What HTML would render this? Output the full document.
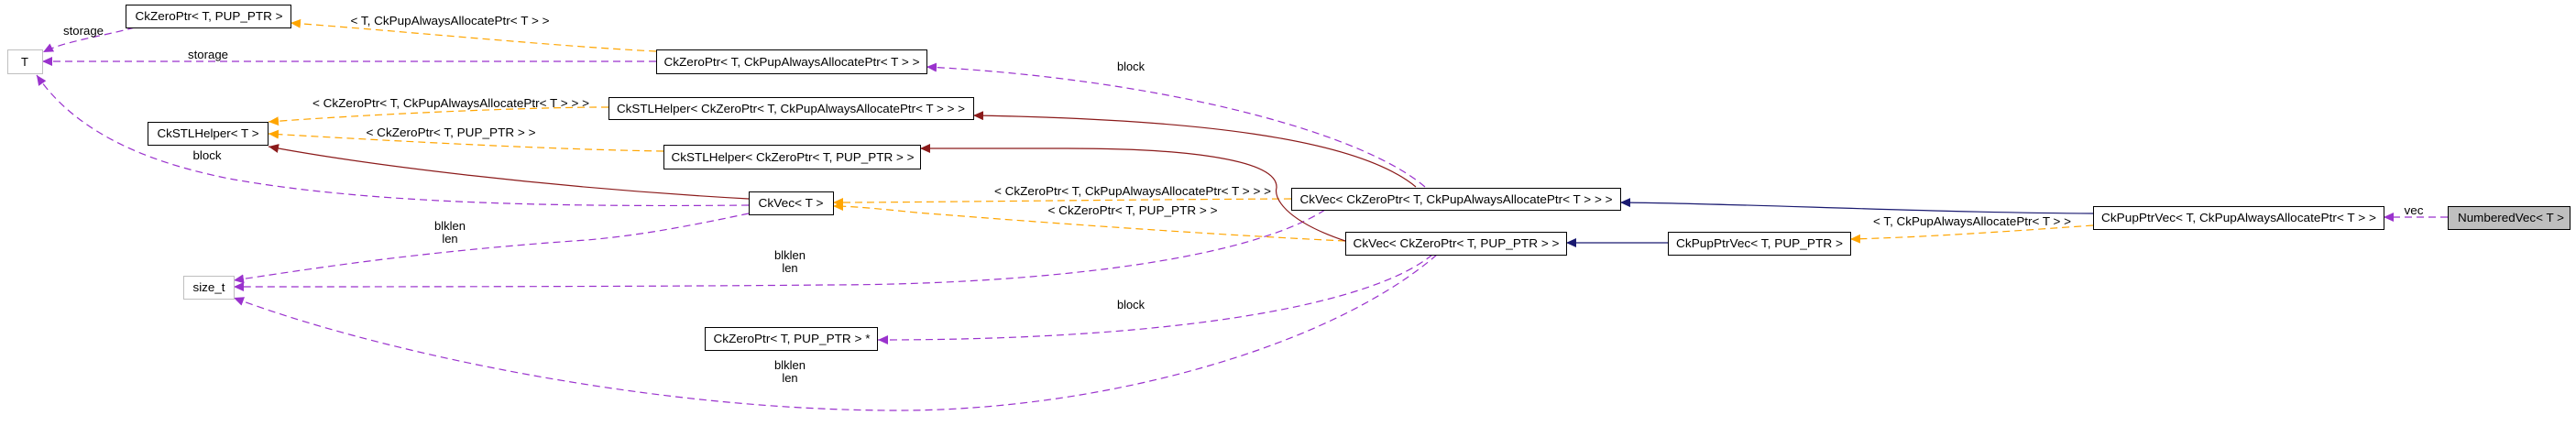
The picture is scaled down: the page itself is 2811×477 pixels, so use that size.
<!DOCTYPE html>
<html><head><meta charset="utf-8"><style>html,body{margin:0;padding:0;background:#fff}svg{display:block}text{font-family:"Liberation Sans",sans-serif;font-size:13px;fill:#000}</style></head><body>
<svg width="2811" height="477" viewBox="0 0 2811 477" xmlns="http://www.w3.org/2000/svg">
<defs>
<marker id="mp" markerWidth="12" markerHeight="10" refX="11" refY="5" orient="auto" markerUnits="userSpaceOnUse"><path d="M0,0 L11,5 L0,10 z" fill="#9a32cd"/></marker>
<marker id="mo" markerWidth="12" markerHeight="10" refX="11" refY="5" orient="auto" markerUnits="userSpaceOnUse"><path d="M0,0 L11,5 L0,10 z" fill="#ffa500"/></marker>
<marker id="mr" markerWidth="12" markerHeight="10" refX="11" refY="5" orient="auto" markerUnits="userSpaceOnUse"><path d="M0,0 L11,5 L0,10 z" fill="#8b1a1a"/></marker>
<marker id="mn" markerWidth="12" markerHeight="10" refX="11" refY="5" orient="auto" markerUnits="userSpaceOnUse"><path d="M0,0 L11,5 L0,10 z" fill="#191970"/></marker>
</defs>
<g fill="none" stroke-width="1.2">
<g stroke="#9a32cd" stroke-dasharray="8,5" marker-end="url(#mp)">
<path d="M2671,237 L2601,237"/>
<path d="M1555,204 C1480,140 1250,85 1011,73"/>
<path d="M1446,229 C1350,290 1100,311 900,311 C700,313 400,313 255,313"/>
<path d="M1563,278 C1500,330 1300,371 958,371"/>
<path d="M1568,278 C1450,380 1200,448 980,448 C700,448 400,380 255,325"/>
<path d="M817,233 C760,245 700,257 640,262 C450,275 330,295 255,306"/>
<path d="M817,224 C600,226 400,222 250,195 C150,175 80,140 40,82"/>
<path d="M716,67 L46,67"/>
<path d="M147,30 C110,40 70,45 47,57"/>
</g>
<g stroke="#ffa500" stroke-dasharray="8,5" marker-end="url(#mo)">
<path d="M2284,246 C2200,252 2100,259 2019,261"/>
<path d="M1409,217 C1200,218 1000,221 909,221"/>
<path d="M1468,263 C1300,255 1100,240 1000,232 C960,228 930,225 909,225"/>
<path d="M664,117 L650,117 C550,118 400,125 293,133"/>
<path d="M724,165 C600,163 450,155 293,146"/>
<path d="M716,56 C600,50 450,35 317,25"/>
</g>
<g stroke="#8b1a1a" marker-end="url(#mr)">
<path d="M1545,204 C1480,150 1300,130 1062,126"/>
<path d="M1468,263 C1400,240 1390,215 1393,205 C1395,175 1300,162 1165,162 L1004,162"/>
<path d="M817,217 C600,205 400,180 293,160"/>
</g>
<g stroke="#191970" marker-end="url(#mn)">
<path d="M2284,233 C2100,232 1900,222 1768,221"/>
<path d="M1820,265 L1709,265"/>
</g>
</g>
<g stroke-width="1">
<rect x="8.5" y="54.5" width="38" height="26" fill="#fff" stroke="#bfbfbf"/>
<rect x="200.5" y="301.5" width="55" height="25" fill="#fff" stroke="#bfbfbf"/>
<rect x="137.5" y="5.5" width="180" height="25" fill="#fff" stroke="#000"/>
<rect x="716.5" y="54.5" width="295" height="26" fill="#fff" stroke="#000"/>
<rect x="161.5" y="133.5" width="131" height="25" fill="#fff" stroke="#000"/>
<rect x="664.5" y="106.5" width="398" height="24" fill="#fff" stroke="#000"/>
<rect x="724.5" y="158.5" width="280" height="26" fill="#fff" stroke="#000"/>
<rect x="817.5" y="209.5" width="92" height="25" fill="#fff" stroke="#000"/>
<rect x="769.5" y="357.5" width="188" height="25" fill="#fff" stroke="#000"/>
<rect x="1409.5" y="205.5" width="359" height="24" fill="#fff" stroke="#000"/>
<rect x="1468.5" y="253.5" width="241" height="25" fill="#fff" stroke="#000"/>
<rect x="1820.5" y="253.5" width="199" height="25" fill="#fff" stroke="#000"/>
<rect x="2284.5" y="225.5" width="317" height="25" fill="#fff" stroke="#000"/>
<rect x="2671.5" y="225.5" width="133" height="25" fill="#bfbfbf" stroke="#000"/>
</g>
<g text-anchor="middle" lengthAdjust="spacingAndGlyphs">
<text x="27" y="72">T</text>
<text x="228" y="318" textLength="35" lengthAdjust="spacingAndGlyphs">size_t</text>
<text x="228" y="22" textLength="161" lengthAdjust="spacingAndGlyphs">CkZeroPtr&lt; T, PUP_PTR &gt;</text>
<text x="864" y="72" textLength="279" lengthAdjust="spacingAndGlyphs">CkZeroPtr&lt; T, CkPupAlwaysAllocatePtr&lt; T &gt; &gt;</text>
<text x="227" y="150" textLength="111" lengthAdjust="spacingAndGlyphs">CkSTLHelper&lt; T &gt;</text>
<text x="863" y="123" textLength="380" lengthAdjust="spacingAndGlyphs">CkSTLHelper&lt; CkZeroPtr&lt; T, CkPupAlwaysAllocatePtr&lt; T &gt; &gt; &gt;</text>
<text x="865" y="176" textLength="265" lengthAdjust="spacingAndGlyphs">CkSTLHelper&lt; CkZeroPtr&lt; T, PUP_PTR &gt; &gt;</text>
<text x="863" y="226" textLength="71" lengthAdjust="spacingAndGlyphs">CkVec&lt; T &gt;</text>
<text x="864" y="374" textLength="171" lengthAdjust="spacingAndGlyphs">CkZeroPtr&lt; T, PUP_PTR &gt; *</text>
<text x="1589" y="222" textLength="341" lengthAdjust="spacingAndGlyphs">CkVec&lt; CkZeroPtr&lt; T, CkPupAlwaysAllocatePtr&lt; T &gt; &gt; &gt;</text>
<text x="1589" y="270" textLength="225" lengthAdjust="spacingAndGlyphs">CkVec&lt; CkZeroPtr&lt; T, PUP_PTR &gt; &gt;</text>
<text x="1920" y="270" textLength="182" lengthAdjust="spacingAndGlyphs">CkPupPtrVec&lt; T, PUP_PTR &gt;</text>
<text x="2443" y="242" textLength="300" lengthAdjust="spacingAndGlyphs">CkPupPtrVec&lt; T, CkPupAlwaysAllocatePtr&lt; T &gt; &gt;</text>
<text x="2740" y="242" textLength="116" lengthAdjust="spacingAndGlyphs">NumberedVec&lt; T &gt;</text>

<text x="91" y="38" textLength="44" lengthAdjust="spacingAndGlyphs">storage</text>
<text x="227" y="64" textLength="44" lengthAdjust="spacingAndGlyphs">storage</text>
<text x="491" y="27" textLength="217" lengthAdjust="spacingAndGlyphs">&lt; T, CkPupAlwaysAllocatePtr&lt; T &gt; &gt;</text>
<text x="492" y="117" textLength="302" lengthAdjust="spacingAndGlyphs">&lt; CkZeroPtr&lt; T, CkPupAlwaysAllocatePtr&lt; T &gt; &gt; &gt;</text>
<text x="492" y="149" textLength="185" lengthAdjust="spacingAndGlyphs">&lt; CkZeroPtr&lt; T, PUP_PTR &gt; &gt;</text>
<text x="226" y="174" textLength="31" lengthAdjust="spacingAndGlyphs">block</text>
<text x="491" y="251" textLength="34" lengthAdjust="spacingAndGlyphs">blklen</text>
<text x="491" y="265">len</text>
<text x="1234" y="77" textLength="30" lengthAdjust="spacingAndGlyphs">block</text>
<text x="1236" y="213" textLength="302" lengthAdjust="spacingAndGlyphs">&lt; CkZeroPtr&lt; T, CkPupAlwaysAllocatePtr&lt; T &gt; &gt; &gt;</text>
<text x="1236" y="234" textLength="185" lengthAdjust="spacingAndGlyphs">&lt; CkZeroPtr&lt; T, PUP_PTR &gt; &gt;</text>
<text x="862" y="283" textLength="34" lengthAdjust="spacingAndGlyphs">blklen</text>
<text x="862" y="297">len</text>
<text x="1234" y="337" textLength="30" lengthAdjust="spacingAndGlyphs">block</text>
<text x="862" y="403" textLength="34" lengthAdjust="spacingAndGlyphs">blklen</text>
<text x="862" y="417">len</text>
<text x="2634" y="234" textLength="21" lengthAdjust="spacingAndGlyphs">vec</text>
<text x="2152" y="246" textLength="216" lengthAdjust="spacingAndGlyphs">&lt; T, CkPupAlwaysAllocatePtr&lt; T &gt; &gt;</text>
</g>
</svg>
</body></html>
